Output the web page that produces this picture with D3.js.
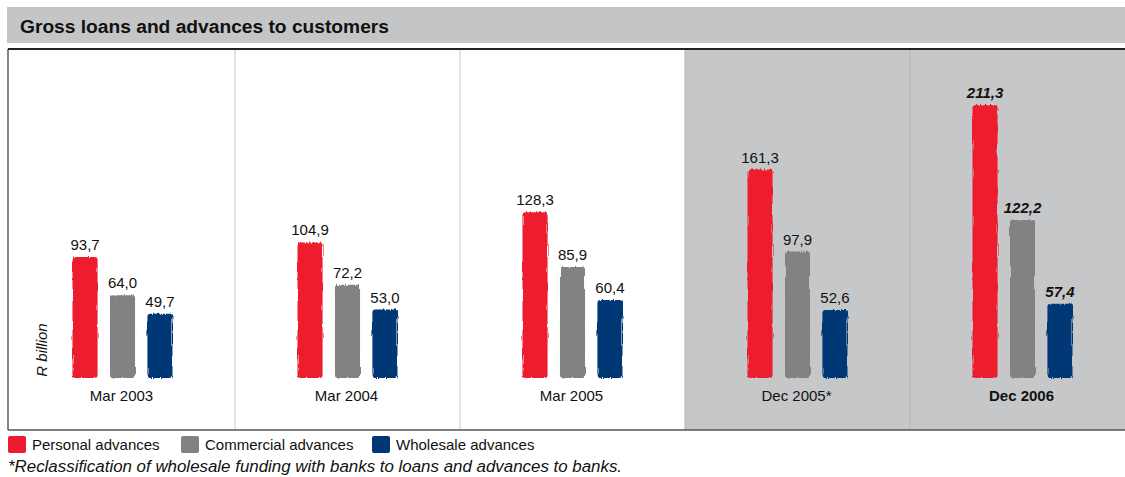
<!DOCTYPE html>
<html>
<head>
<meta charset="utf-8">
<script src="https://cdn.jsdelivr.net/npm/d3@7"></script>
<style>
  html, body { margin: 0; padding: 0; background: #fff; }
  svg { display: block; font-family: "Liberation Sans", Arial, sans-serif; }
</style>
</head>
<body>
<svg id="chart" width="1125" height="477"></svg>
<script>
// Gross loans and advances to customers, R billion
const periods = ["Mar 2003", "Mar 2004", "Mar 2005", "Dec 2005*", "Dec 2006"];
const seriesNames = ["Personal advances", "Commercial advances", "Wholesale advances"];
const personal   = [93.7, 104.9, 128.3, 161.3, 211.3];
const commercial = [64.0, 72.2, 85.9, 97.9, 122.2];
const wholesale  = [49.7, 53.0, 60.4, 52.6, 57.4];
const shadedPeriods = ["Dec 2005*", "Dec 2006"];
const highlightPeriod = "Dec 2006";
const colors = ["#ed1b2f", "#828282", "#003876"];

const series = [personal, commercial, wholesale];
const svg = d3.select("#chart");

// brush-stroke look for the bars
const defs = svg.append("defs");
const filt = defs.append("filter").attr("id", "brush")
  .attr("x", "-10%").attr("y", "-5%").attr("width", "120%").attr("height", "110%");
filt.append("feTurbulence").attr("type", "fractalNoise")
  .attr("baseFrequency", "0.9 0.05").attr("numOctaves", 2).attr("seed", 3).attr("result", "noise");
filt.append("feDisplacementMap").attr("in", "SourceGraphic").attr("in2", "noise")
  .attr("scale", 3.5).attr("xChannelSelector", "R").attr("yChannelSelector", "G");

// title bar
svg.append("rect").attr("x", 7).attr("y", 7).attr("width", 1118).attr("height", 36).attr("fill", "#c4c5c7");
svg.append("text").attr("x", 20).attr("y", 33).attr("font-size", 19.2).attr("font-weight", "bold")
  .attr("fill", "#111").text("Gross loans and advances to customers");

// chart frame
const frameTop = 49, frameBottom = 430, frameLeft = 8;
const x = d3.scaleBand().domain(periods).range([10, 1135]);
const inner = d3.scaleBand().domain(d3.range(series.length)).range([0, 100]).paddingInner(0.33);
const baseY = 378;
const y = d3.scaleLinear().domain([0, 211.3]).range([baseY, 105]);

// shaded panels
svg.append("g").selectAll("rect").data(shadedPeriods).join("rect")
  .attr("x", d => x(d)).attr("y", frameTop).attr("width", x.bandwidth()).attr("height", frameBottom - frameTop)
  .attr("fill", "#c6c7c9");

// panel dividers
svg.append("g").selectAll("line").data(periods.slice(1)).join("line")
  .attr("x1", d => x(d)).attr("x2", d => x(d)).attr("y1", frameTop).attr("y2", frameBottom)
  .attr("stroke", d => shadedPeriods.includes(d) ? "#b4b5b7" : "#c8c8c8").attr("stroke-width", 1);

// frame lines
svg.append("line").attr("x1", frameLeft).attr("x2", 1125).attr("y1", frameTop).attr("y2", frameTop)
  .attr("stroke", "#222").attr("stroke-width", 2);
svg.append("line").attr("x1", frameLeft).attr("x2", frameLeft).attr("y1", frameTop).attr("y2", frameBottom)
  .attr("stroke", "#333").attr("stroke-width", 1.2);
svg.append("line").attr("x1", frameLeft).attr("x2", 1125).attr("y1", frameBottom).attr("y2", frameBottom)
  .attr("stroke", "#555").attr("stroke-width", 1.5);

// bars and value labels
const fmt = v => d3.format(".1f")(v).replace(".", ",");
const groupOffset = (x.bandwidth() - inner.range()[1]) / 2;

periods.forEach((p, i) => {
  const g = svg.append("g").attr("transform", `translate(${x(p) + groupOffset},0)`);
  const hl = p === highlightPeriod;
  series.forEach((s, k) => {
    const v = s[i];
    g.append("rect")
      .attr("x", inner(k)).attr("y", y(v))
      .attr("width", inner.bandwidth()).attr("height", baseY - y(v))
      .attr("rx", 3).attr("ry", 3)
      .attr("fill", colors[k]).attr("filter", "url(#brush)");
    g.append("text")
      .attr("x", inner(k) + inner.bandwidth() / 2).attr("y", y(v) - 7)
      .attr("text-anchor", "middle").attr("font-size", 15)
      .attr("font-weight", hl ? "bold" : "normal").attr("font-style", hl ? "italic" : "normal")
      .attr("fill", "#111").text(fmt(v));
  });
});

// category labels
svg.append("g").selectAll("text").data(periods).join("text")
  .attr("x", d => x(d) + x.bandwidth() / 2 - 1).attr("y", 401)
  .attr("text-anchor", "middle").attr("font-size", 15)
  .attr("font-weight", d => d === highlightPeriod ? "bold" : "normal")
  .attr("fill", "#111").text(d => d);

// unit label
svg.append("text").attr("transform", "translate(47,350) rotate(-90)")
  .attr("text-anchor", "middle").attr("font-size", 15).attr("font-style", "italic")
  .attr("fill", "#111").text("R billion");

// legend
const legendX = [8, 181, 372];
const lg = svg.append("g").selectAll("g").data(seriesNames).join("g")
  .attr("transform", (d, i) => `translate(${legendX[i]},436)`);
lg.append("rect").attr("width", 18).attr("height", 17).attr("rx", 2).attr("fill", (d, i) => colors[i]);
lg.append("text").attr("x", 24).attr("y", 14).attr("font-size", 15).attr("fill", "#111").text(d => d);

// footnote
svg.append("text").attr("x", 8).attr("y", 472).attr("font-size", 16.9).attr("font-style", "italic")
  .attr("fill", "#111").text("*Reclassification of  wholesale funding with banks to loans and advances to banks.");
</script>
</body>
</html>
